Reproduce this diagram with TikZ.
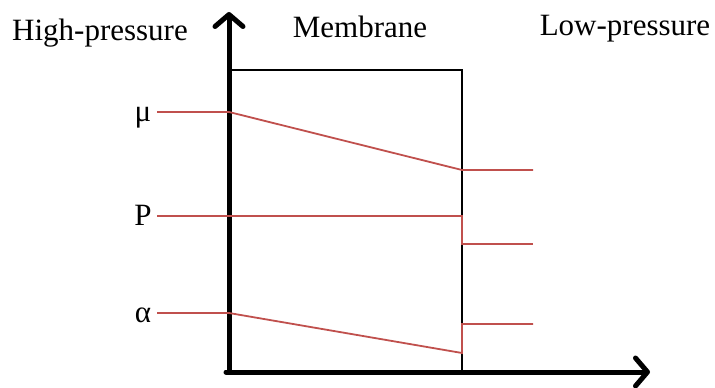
\documentclass[tikz,border=0pt]{standalone}
\usepackage{fontspec}
\setmainfont{Liberation Serif}
\usetikzlibrary{arrows.meta}
\definecolor{lineRed}{RGB}{192,80,77}

\begin{document}
\begin{tikzpicture}
[x=1pt,y=-1pt,
 axisStyle/.style={line width=5pt,line cap=round,-{Straight Barb[length=12pt,width=28pt,line cap=round,line join=round]}},
 labelStyle/.style={font=\fontsize{31}{36}\selectfont,inner sep=0pt,anchor=base},
 flowStyle/.style={draw=lineRed,line width=1.8pt}]
\useasboundingbox (0,0) rectangle (715,388);
%% membrane
\draw[line width=1.5pt] (229,70) rectangle (462,372);
%% axes
\coordinate (origin) at (229,372);
\coordinate (ytip) at (229,12);
\coordinate (xstart) at (226,372);
\coordinate (xtip) at (650,372);
\draw[axisStyle] (origin) -- (ytip);
\draw[axisStyle] (xstart) -- (xtip);
%% side labels
\node[labelStyle] (high) at (100,40) {High-pressure};
\node[labelStyle] (membrane) at (360,37) {Membrane};
\node[labelStyle] (low) at (625,35) {Low-pressure};
%% potentials across the membrane
\foreach \name/\txt/\ya/\yb/\yc in {mu/μ/112/170/170, P/P/216/216/244, alpha/α/313/353/324}
{
  \node[labelStyle] (\name) at (143,\ya+9) {\txt};
  \coordinate (\name In) at (157,\ya);
  \coordinate (\name Left) at (229,\ya);
  \coordinate (\name Right) at (462,\yb);
  \coordinate (\name Step) at (462,\yc);
  \coordinate (\name Out) at (533,\yc);
  \draw[flowStyle] (\name In) -- (\name Left) -- (\name Right) -- (\name Step) -- (\name Out);
}
\end{tikzpicture}
\end{document}
